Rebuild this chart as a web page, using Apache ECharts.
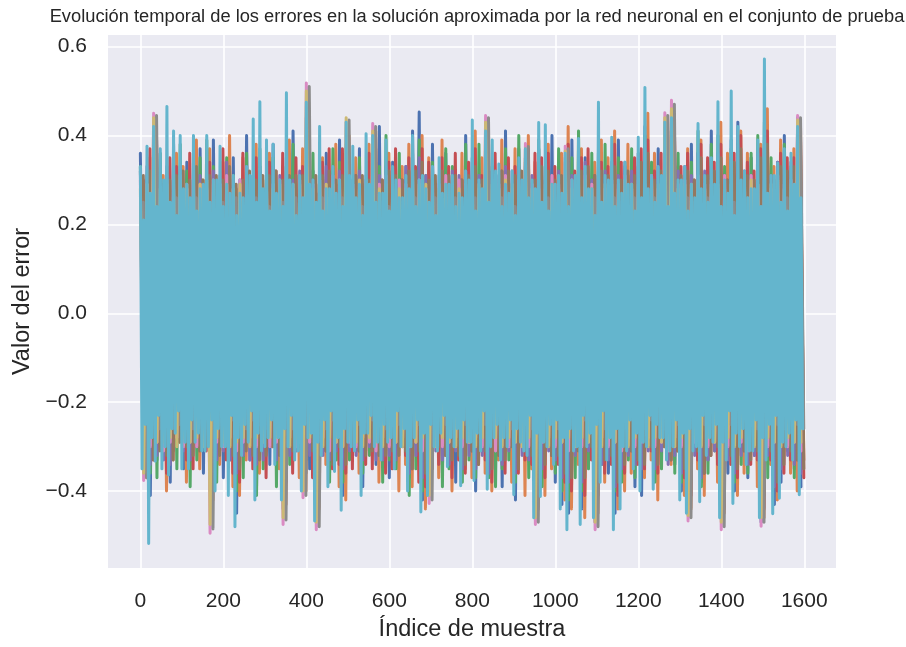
<!DOCTYPE html>
<html>
<head>
<meta charset="utf-8">
<script src="https://cdn.jsdelivr.net/npm/echarts@6/dist/echarts.min.js"></script>
<style>
  html, body { margin: 0; padding: 0; background: #ffffff; }
  #chart { width: 906px; height: 647px; }
</style>
</head>
<body>
<div id="chart"></div>
<script>
// Índices de muestra: la última salida cada 4 muestras, las demás cada 8
// (las salidas impares desplazadas 7 muestras)
const idxFino = Array.from({ length: 400 }, (_, i) => i * 4);
const idxGrueso = Array.from({ length: 200 }, (_, i) => i * 8);
const idxDesplazado = Array.from({ length: 200 }, (_, i) => i * 8 + 7);

// Errores de cada salida de la red neuronal (picos y valles alternos)
const err0 = [
  0.36,-0.29, 0.28,-0.41, 0.40,-0.33, 0.25,-0.27, 0.33,-0.38, 0.38,-0.24, 0.22,-0.35, 0.34,-0.30, 0.29,-0.22, 0.37,-0.36,
  0.26,-0.40, 0.39,-0.28, 0.31,-0.37, 0.23,-0.31, 0.35,-0.45, 0.30,-0.26, 0.40,-0.33, 0.27,-0.39, 0.33,-0.24, 0.24,-0.34,
  0.38,-0.27, 0.29,-0.44, 0.35,-0.31, 0.41,-0.23, 0.26,-0.38, 0.44,-0.35, 0.32,-0.46, 0.23,-0.28, 0.36,-0.36, 0.28,-0.25,
  0.39,-0.41, 0.33,-0.30, 0.24,-0.27, 0.37,-0.39, 0.30,-0.24, 0.35,-0.34, 0.42,-0.29, 0.27,-0.37, 0.34,-0.31, 0.22,-0.26,
  0.33,-0.37, 0.41,-0.25, 0.453,-0.42, 0.29,-0.34, 0.38,-0.29, 0.25,-0.36, 0.36,-0.23, 0.31,-0.38, 0.27,-0.33, 0.40,-0.27,
  0.35,-0.40, 0.24,-0.31, 0.38,-0.35, 0.32,-0.27, 0.28,-0.39, 0.41,-0.24, 0.26,-0.42, 0.37,-0.30, 0.33,-0.26, 0.29,-0.46,
  0.37,-0.33, 0.30,-0.28, 0.40,-0.38, 0.25,-0.43, 0.34,-0.45, 0.39,-0.25, 0.28,-0.44, 0.35,-0.32, 0.23,-0.47, 0.36,-0.29,
  0.31,-0.36, 0.27,-0.45, 0.39,-0.30, 0.34,-0.26, 0.24,-0.39, 0.36,-0.41, 0.42,-0.27, 0.29,-0.35, 0.37,-0.31, 0.43,-0.28,
  0.45,-0.34, 0.33,-0.40, 0.26,-0.43, 0.38,-0.25, 0.36,-0.38, 0.28,-0.33, 0.41,-0.29, 0.32,-0.46, 0.25,-0.36, 0.39,-0.40,
  0.43,-0.26, 0.27,-0.37, 0.35,-0.32, 0.30,-0.47, 0.38,-0.29, 0.24,-0.43, 0.34,-0.38, 0.40,-0.24, 0.29,-0.35, 0.44,-0.39
];
const err1 = [
  0.29,-0.37, 0.35,-0.30, 0.38,-0.26, 0.31,-0.40, 0.24,-0.33, 0.36,-0.29, 0.33,-0.38, 0.27,-0.24, 0.39,-0.35, 0.30,-0.28,
  0.37,-0.42, 0.25,-0.34, 0.34,-0.29, 0.40,-0.39, 0.28,-0.41, 0.35,-0.33, 0.23,-0.27, 0.38,-0.36, 0.30,-0.31, 0.36,-0.23,
  0.27,-0.35, 0.33,-0.43, 0.39,-0.28, 0.24,-0.37, 0.37,-0.40, 0.42,-0.25, 0.29,-0.44, 0.35,-0.34, 0.31,-0.29, 0.38,-0.39,
  0.25,-0.42, 0.40,-0.27, 0.35,-0.36, 0.29,-0.31, 0.38,-0.26, 0.41,-0.38, 0.26,-0.33, 0.36,-0.28, 0.23,-0.40, 0.33,-0.34,
  0.38,-0.39, 0.30,-0.31, 0.40,-0.44, 0.35,-0.28, 0.27,-0.37, 0.39,-0.32, 0.31,-0.40, 0.24,-0.26, 0.36,-0.35, 0.28,-0.37,
  0.41,-0.29, 0.35,-0.36, 0.33,-0.40, 0.26,-0.33, 0.39,-0.27, 0.30,-0.38, 0.37,-0.32, 0.28,-0.41, 0.40,-0.35, 0.34,-0.44,
  0.26,-0.41, 0.38,-0.35, 0.31,-0.27, 0.36,-0.42, 0.42,-0.44, 0.27,-0.34, 0.37,-0.46, 0.30,-0.26, 0.34,-0.45, 0.39,-0.38,
  0.35,-0.28, 0.41,-0.44, 0.26,-0.40, 0.38,-0.36, 0.33,-0.31, 0.29,-0.37, 0.45,-0.33, 0.36,-0.42, 0.27,-0.27, 0.40,-0.34,
  0.42,-0.27, 0.30,-0.41, 0.37,-0.44, 0.25,-0.35, 0.39,-0.41, 0.34,-0.29, 0.27,-0.38, 0.43,-0.45, 0.36,-0.30, 0.31,-0.41,
  0.41,-0.36, 0.36,-0.30, 0.28,-0.39, 0.38,-0.46, 0.46,-0.34, 0.33,-0.42, 0.39,-0.30, 0.27,-0.36, 0.37,-0.40, 0.42,-0.33
];
const err2 = [
  0.33,-0.31, 0.31,-0.36, 0.41,-0.37, 0.36,-0.30, 0.29,-0.27, 0.25,-0.35, 0.38,-0.26, 0.32,-0.39, 0.27,-0.33, 0.35,-0.24,
  0.39,-0.36, 0.33,-0.38, 0.26,-0.25, 0.35,-0.33, 0.31,-0.40, 0.28,-0.37, 0.36,-0.30, 0.24,-0.41, 0.37,-0.35, 0.32,-0.27,
  0.35,-0.39, 0.26,-0.40, 0.33,-0.34, 0.38,-0.29, 0.28,-0.36, 0.40,-0.31, 0.36,-0.42, 0.30,-0.25, 0.24,-0.38, 0.37,-0.33,
  0.34,-0.38, 0.38,-0.33, 0.29,-0.29, 0.35,-0.36, 0.26,-0.32, 0.39,-0.27, 0.33,-0.38, 0.40,-0.33, 0.28,-0.35, 0.36,-0.29,
  0.27,-0.41, 0.36,-0.35, 0.39,-0.40, 0.31,-0.37, 0.34,-0.26, 0.28,-0.39, 0.37,-0.35, 0.33,-0.30, 0.24,-0.38, 0.38,-0.33,
  0.31,-0.37, 0.38,-0.25, 0.36,-0.37, 0.33,-0.39, 0.25,-0.35, 0.37,-0.33, 0.29,-0.38, 0.40,-0.27, 0.35,-0.37, 0.27,-0.42,
  0.39,-0.39, 0.33,-0.30, 0.28,-0.36, 0.37,-0.40, 0.30,-0.42, 0.35,-0.37, 0.41,-0.40, 0.26,-0.35, 0.36,-0.43, 0.32,-0.34,
  0.38,-0.31, 0.30,-0.40, 0.35,-0.38, 0.27,-0.33, 0.37,-0.37, 0.33,-0.34, 0.40,-0.29, 0.34,-0.38, 0.29,-0.35, 0.38,-0.31,
  0.40,-0.36, 0.36,-0.38, 0.30,-0.40, 0.34,-0.29, 0.41,-0.39, 0.26,-0.36, 0.38,-0.31, 0.40,-0.42, 0.33,-0.27, 0.37,-0.38,
  0.38,-0.34, 0.28,-0.36, 0.36,-0.27, 0.40,-0.43, 0.43,-0.37, 0.35,-0.39, 0.30,-0.34, 0.38,-0.31, 0.33,-0.37, 0.40,-0.35
];
const err3 = [
  0.30,-0.34, 0.37,-0.33, 0.39,-0.30, 0.28,-0.36, 0.35,-0.31, 0.33,-0.26, 0.26,-0.33, 0.36,-0.35, 0.31,-0.28, 0.27,-0.31,
  0.34,-0.38, 0.30,-0.31, 0.37,-0.33, 0.32,-0.36, 0.25,-0.38, 0.36,-0.29, 0.30,-0.35, 0.35,-0.31, 0.28,-0.37, 0.34,-0.30,
  0.32,-0.31, 0.36,-0.38, 0.30,-0.36, 0.35,-0.26, 0.33,-0.33, 0.38,-0.37, 0.27,-0.40, 0.34,-0.31, 0.37,-0.35, 0.29,-0.34,
  0.37,-0.36, 0.35,-0.35, 0.31,-0.31, 0.26,-0.34, 0.36,-0.35, 0.37,-0.30, 0.30,-0.36, 0.34,-0.35, 0.37,-0.30, 0.30,-0.32,
  0.35,-0.35, 0.33,-0.38, 0.37,-0.39, 0.34,-0.35, 0.29,-0.34, 0.35,-0.27, 0.33,-0.37, 0.36,-0.33, 0.30,-0.36, 0.34,-0.31,
  0.37,-0.34, 0.31,-0.33, 0.39,-0.38, 0.36,-0.30, 0.32,-0.36, 0.35,-0.29, 0.33,-0.36, 0.31,-0.33, 0.37,-0.34, 0.36,-0.40,
  0.35,-0.37, 0.36,-0.32, 0.33,-0.34, 0.30,-0.38, 0.38,-0.40, 0.32,-0.30, 0.35,-0.41, 0.37,-0.33, 0.31,-0.41, 0.34,-0.36,
  0.33,-0.34, 0.38,-0.41, 0.34,-0.36, 0.31,-0.31, 0.35,-0.34, 0.37,-0.35, 0.39,-0.31, 0.32,-0.36, 0.36,-0.30, 0.41,-0.33,
  0.43,-0.31, 0.33,-0.37, 0.36,-0.41, 0.30,-0.33, 0.38,-0.36, 0.35,-0.32, 0.34,-0.34, 0.38,-0.44, 0.30,-0.34, 0.36,-0.37,
  0.40,-0.31, 0.34,-0.34, 0.32,-0.33, 0.37,-0.44, 0.41,-0.33, 0.30,-0.40, 0.36,-0.36, 0.35,-0.33, 0.35,-0.33, 0.39,-0.37
];
const err4 = [
  0.32,-0.33, 0.33,-0.34, 0.37,-0.32, 0.30,-0.33, 0.31,-0.34, 0.30,-0.28, 0.33,-0.31, 0.29,-0.33, 0.34,-0.30, 0.31,-0.29,
  0.30,-0.36, 0.32,-0.33, 0.29,-0.31, 0.34,-0.33, 0.30,-0.36, 0.29,-0.32, 0.33,-0.33, 0.31,-0.34, 0.32,-0.33, 0.30,-0.29,
  0.33,-0.33, 0.31,-0.36, 0.32,-0.32, 0.30,-0.31, 0.32,-0.35, 0.36,-0.32, 0.30,-0.37, 0.32,-0.32, 0.33,-0.33, 0.31,-0.31,
  0.32,-0.35, 0.34,-0.31, 0.30,-0.32, 0.32,-0.33, 0.31,-0.30, 0.35,-0.33, 0.31,-0.33, 0.33,-0.32, 0.32,-0.33, 0.29,-0.30,
  0.33,-0.36, 0.33,-0.32, 0.35,-0.37, 0.31,-0.34, 0.32,-0.31, 0.31,-0.33, 0.30,-0.34, 0.32,-0.31, 0.31,-0.35, 0.32,-0.32,
  0.34,-0.35, 0.31,-0.32, 0.36,-0.36, 0.32,-0.31, 0.31,-0.34, 0.33,-0.31, 0.32,-0.36, 0.33,-0.32, 0.34,-0.33, 0.31,-0.38,
  0.34,-0.35, 0.33,-0.31, 0.31,-0.33, 0.32,-0.37, 0.35,-0.38, 0.31,-0.32, 0.33,-0.38, 0.34,-0.31, 0.30,-0.39, 0.33,-0.34,
  0.32,-0.33, 0.34,-0.39, 0.31,-0.35, 0.33,-0.32, 0.32,-0.34, 0.35,-0.35, 0.37,-0.31, 0.31,-0.35, 0.33,-0.31, 0.38,-0.34,
  0.40,-0.32, 0.32,-0.36, 0.33,-0.39, 0.31,-0.32, 0.36,-0.37, 0.32,-0.33, 0.33,-0.31, 0.36,-0.42, 0.31,-0.33, 0.35,-0.36,
  0.38,-0.32, 0.32,-0.34, 0.31,-0.32, 0.36,-0.42, 0.39,-0.32, 0.31,-0.39, 0.34,-0.35, 0.33,-0.32, 0.34,-0.34, 0.37,-0.36
];
const err5 = [
  0.31,-0.32, 0.32,-0.33, 0.36,-0.31, 0.29,-0.32, 0.30,-0.33, 0.31,-0.29, 0.32,-0.30, 0.30,-0.32, 0.33,-0.31, 0.30,-0.30,
  0.31,-0.35, 0.31,-0.32, 0.30,-0.30, 0.33,-0.32, 0.29,-0.35, 0.30,-0.31, 0.32,-0.32, 0.30,-0.33, 0.31,-0.32, 0.31,-0.30,
  0.32,-0.32, 0.30,-0.35, 0.31,-0.31, 0.31,-0.30, 0.31,-0.36, 0.37,-0.31, 0.31,-0.36, 0.31,-0.31, 0.32,-0.34, 0.30,-0.30,
  0.31,-0.34, 0.33,-0.30, 0.31,-0.31, 0.31,-0.32, 0.30,-0.31, 0.34,-0.32, 0.30,-0.32, 0.32,-0.31, 0.31,-0.32, 0.30,-0.31,
  0.32,-0.35, 0.32,-0.31, 0.34,-0.36, 0.30,-0.35, 0.31,-0.30, 0.32,-0.32, 0.31,-0.33, 0.31,-0.32, 0.30,-0.34, 0.31,-0.31,
  0.33,-0.34, 0.30,-0.31, 0.35,-0.35, 0.31,-0.32, 0.32,-0.33, 0.32,-0.30, 0.31,-0.35, 0.32,-0.31, 0.33,-0.32, 0.30,-0.37,
  0.33,-0.34, 0.32,-0.32, 0.30,-0.32, 0.31,-0.36, 0.34,-0.37, 0.30,-0.31, 0.32,-0.37, 0.33,-0.30, 0.31,-0.38, 0.32,-0.33,
  0.31,-0.32, 0.33,-0.38, 0.30,-0.34, 0.32,-0.31, 0.31,-0.33, 0.34,-0.34, 0.36,-0.30, 0.30,-0.34, 0.32,-0.30, 0.37,-0.33,
  0.39,-0.31, 0.31,-0.35, 0.32,-0.38, 0.30,-0.31, 0.35,-0.36, 0.31,-0.32, 0.32,-0.30, 0.35,-0.41, 0.30,-0.32, 0.34,-0.35,
  0.37,-0.31, 0.31,-0.33, 0.30,-0.31, 0.35,-0.41, 0.38,-0.31, 0.30,-0.38, 0.33,-0.34, 0.32,-0.31, 0.33,-0.33, 0.36,-0.35
];
const err6 = [
  0.30,-0.376, 0.29,-0.30, 0.45,-0.29, 0.28,-0.31, 0.30,-0.29, 0.29,-0.28, 0.31,-0.30, 0.28,-0.29, 0.30,-0.30, 0.29,-0.28,
  0.28,-0.495, 0.30,-0.29, 0.29,-0.30, 0.31,-0.28, 0.28,-0.31, 0.30,-0.29, 0.29,-0.28, 0.30,-0.30, 0.31,-0.29, 0.28,-0.30,
  0.29,-0.29, 0.30,-0.475, 0.31,-0.28, 0.28,-0.30, 0.30,-0.415, 0.518,-0.29, 0.29,-0.487, 0.30,-0.28, 0.28,-0.31, 0.31,-0.29,
  0.30,-0.30, 0.43,-0.29, 0.29,-0.30, 0.28,-0.28, 0.30,-0.29, 0.427,-0.31, 0.29,-0.28, 0.31,-0.30, 0.28,-0.29, 0.30,-0.28,
  0.29,-0.30, 0.31,-0.29, 0.30,-0.31, 0.28,-0.428, 0.30,-0.28, 0.29,-0.30, 0.31,-0.29, 0.28,-0.28, 0.30,-0.30, 0.29,-0.29,
  0.31,-0.28, 0.28,-0.30, 0.445,-0.29, 0.30,-0.31, 0.29,-0.28, 0.31,-0.30, 0.28,-0.29, 0.30,-0.28, 0.382,-0.30, 0.29,-0.475,
  0.30,-0.29, 0.28,-0.28, 0.31,-0.30, 0.29,-0.29, 0.376,-0.31, 0.30,-0.28, 0.28,-0.30, 0.31,-0.29, 0.29,-0.487, 0.30,-0.28,
  0.28,-0.30, 0.30,-0.29, 0.29,-0.31, 0.31,-0.28, 0.28,-0.30, 0.30,-0.29, 0.29,-0.28, 0.31,-0.30, 0.28,-0.29, 0.451,-0.31,
  0.479,-0.28, 0.29,-0.30, 0.30,-0.467, 0.28,-0.29, 0.31,-0.28, 0.29,-0.30, 0.30,-0.29, 0.28,-0.487, 0.31,-0.30, 0.29,-0.28,
  0.30,-0.29, 0.28,-0.31, 0.31,-0.28, 0.29,-0.479, 0.30,-0.30, 0.28,-0.29, 0.31,-0.28, 0.29,-0.30, 0.30,-0.29, 0.445,-0.31
];
const err7 = [
  0.25,-0.37, 0.26,-0.25, 0.445,-0.26, 0.25,-0.24, 0.24,-0.26, 0.26,-0.25, 0.25,-0.24, 0.24,-0.26, 0.26,-0.25, 0.25,-0.24,
  0.24,-0.485, 0.26,-0.25, 0.25,-0.26, 0.24,-0.24, 0.26,-0.25, 0.25,-0.26, 0.24,-0.24, 0.26,-0.25, 0.25,-0.26, 0.24,-0.24,
  0.26,-0.25, 0.25,-0.465, 0.24,-0.26, 0.26,-0.24, 0.25,-0.41, 0.51,-0.25, 0.24,-0.48, 0.26,-0.26, 0.25,-0.24, 0.24,-0.25,
  0.26,-0.26, 0.435,-0.24, 0.25,-0.25, 0.24,-0.26, 0.26,-0.24, 0.42,-0.25, 0.25,-0.26, 0.24,-0.24, 0.26,-0.25, 0.25,-0.26,
  0.24,-0.24, 0.26,-0.25, 0.25,-0.26, 0.24,-0.42, 0.26,-0.24, 0.25,-0.25, 0.24,-0.26, 0.26,-0.24, 0.25,-0.25, 0.24,-0.26,
  0.26,-0.24, 0.25,-0.25, 0.44,-0.26, 0.24,-0.24, 0.26,-0.25, 0.25,-0.26, 0.24,-0.24, 0.26,-0.25, 0.375,-0.26, 0.25,-0.47,
  0.24,-0.24, 0.26,-0.25, 0.25,-0.26, 0.24,-0.24, 0.37,-0.25, 0.26,-0.26, 0.25,-0.24, 0.24,-0.25, 0.26,-0.48, 0.25,-0.26,
  0.24,-0.24, 0.26,-0.25, 0.25,-0.26, 0.24,-0.24, 0.26,-0.25, 0.25,-0.26, 0.24,-0.24, 0.26,-0.25, 0.25,-0.26, 0.445,-0.24,
  0.47,-0.25, 0.24,-0.26, 0.26,-0.46, 0.25,-0.24, 0.24,-0.25, 0.26,-0.26, 0.25,-0.24, 0.24,-0.48, 0.26,-0.25, 0.25,-0.26,
  0.24,-0.24, 0.26,-0.25, 0.25,-0.26, 0.24,-0.47, 0.26,-0.24, 0.25,-0.25, 0.24,-0.26, 0.26,-0.24, 0.25,-0.25, 0.44,-0.26
];
const err8 = [
  0.28,-0.36, 0.29,-0.28, 0.44,-0.29, 0.28,-0.29, 0.29,-0.28, 0.28,-0.30, 0.30,-0.28, 0.29,-0.29, 0.28,-0.28, 0.29,-0.30,
  0.30,-0.475, 0.29,-0.28, 0.28,-0.29, 0.29,-0.30, 0.28,-0.29, 0.29,-0.28, 0.28,-0.30, 0.30,-0.28, 0.29,-0.29, 0.28,-0.28,
  0.28,-0.28, 0.29,-0.46, 0.30,-0.30, 0.29,-0.28, 0.29,-0.40, 0.50,-0.28, 0.28,-0.47, 0.30,-0.30, 0.29,-0.28, 0.29,-0.29,
  0.28,-0.30, 0.44,-0.28, 0.28,-0.29, 0.30,-0.30, 0.29,-0.28, 0.41,-0.29, 0.28,-0.30, 0.29,-0.28, 0.29,-0.29, 0.28,-0.30,
  0.28,-0.28, 0.30,-0.29, 0.29,-0.28, 0.29,-0.41, 0.28,-0.30, 0.28,-0.28, 0.29,-0.29, 0.29,-0.30, 0.28,-0.28, 0.28,-0.29,
  0.30,-0.30, 0.29,-0.28, 0.43,-0.29, 0.29,-0.28, 0.28,-0.30, 0.30,-0.28, 0.29,-0.29, 0.29,-0.30, 0.37,-0.28, 0.28,-0.46,
  0.28,-0.28, 0.29,-0.30, 0.29,-0.28, 0.28,-0.29, 0.365,-0.28, 0.28,-0.30, 0.29,-0.28, 0.30,-0.29, 0.28,-0.47, 0.28,-0.30,
  0.29,-0.28, 0.29,-0.29, 0.28,-0.28, 0.30,-0.30, 0.29,-0.28, 0.29,-0.28, 0.28,-0.30, 0.30,-0.28, 0.29,-0.29, 0.44,-0.28,
  0.46,-0.30, 0.28,-0.28, 0.29,-0.455, 0.29,-0.28, 0.30,-0.30, 0.28,-0.28, 0.29,-0.29, 0.29,-0.47, 0.28,-0.28, 0.29,-0.30,
  0.28,-0.28, 0.29,-0.29, 0.30,-0.30, 0.29,-0.46, 0.28,-0.28, 0.29,-0.29, 0.30,-0.30, 0.28,-0.28, 0.29,-0.29, 0.435,-0.29
];
const err9 = [
  0.33,-0.35,0.21,-0.25, 0.376,-0.518,0.27,-0.28, 0.42,-0.333,0.24,-0.23, 0.37,-0.35,0.30,-0.30, 0.465,-0.364,0.25,-0.26,
  0.41,-0.27,0.22,-0.22, 0.40,-0.35,0.28,-0.29, 0.29,-0.35,0.26,-0.24, 0.40,-0.29,0.23,-0.27, 0.28,-0.31,0.29,-0.31,
  0.40,-0.30,0.25,-0.24, 0.30,-0.40,0.30,-0.26, 0.376,-0.30,0.24,-0.30, 0.29,-0.41,0.27,-0.23, 0.31,-0.48,0.22,-0.28,
  0.27,-0.32,0.26,-0.25, 0.33,-0.29,0.31,-0.22, 0.437,-0.42,0.25,-0.27, 0.476,-0.31,0.28,-0.30, 0.39,-0.28,0.23,-0.24,
  0.38,-0.34,0.27,-0.28, 0.30,-0.42,0.24,-0.26, 0.496,-0.30,0.30,-0.23, 0.29,-0.33,0.22,-0.31, 0.31,-0.40,0.26,-0.25,
  0.475,-0.28,0.29,-0.27, 0.30,-0.467,0.25,-0.29, 0.42,-0.32,0.23,-0.24, 0.28,-0.39,0.28,-0.22, 0.33,-0.356,0.27,-0.28,
  0.30,-0.443,0.24,-0.26, 0.43,-0.29,0.31,-0.30, 0.376,-0.31,0.26,-0.24, 0.29,-0.41,0.22,-0.27, 0.404,-0.27,0.29,-0.23,
  0.40,-0.30,0.25,-0.29, 0.27,-0.33,0.27,-0.25, 0.39,-0.29,0.23,-0.28, 0.33,-0.35,0.30,-0.22, 0.26,-0.30,0.26,-0.26,
  0.31,-0.40,0.28,-0.30, 0.40,-0.28,0.24,-0.24, 0.30,-0.447,0.31,-0.27, 0.28,-0.41,0.25,-0.25, 0.33,-0.30,0.22,-0.31,
  0.35,-0.27,0.27,-0.23, 0.29,-0.345,0.29,-0.28, 0.31,-0.30,0.24,-0.26, 0.27,-0.388,0.26,-0.24, 0.32,-0.29,0.30,-0.29,
  0.435,-0.376,0.23,-0.27, 0.30,-0.31,0.28,-0.22, 0.41,-0.396,0.25,-0.30, 0.39,-0.28,0.32,-0.25, 0.336,-0.33,0.24,-0.28,
  0.29,-0.30,0.27,-0.24, 0.32,-0.408,0.22,-0.26, 0.35,-0.29,0.30,-0.31, 0.37,-0.32,0.26,-0.23, 0.30,-0.46,0.28,-0.27,
  0.429,-0.412,0.25,-0.29, 0.424,-0.30,0.23,-0.25, 0.29,-0.34,0.29,-0.24, 0.31,-0.44,0.27,-0.28, 0.36,-0.487,0.24,-0.26,
  0.30,-0.31,0.31,-0.30, 0.393,-0.475,0.26,-0.23, 0.33,-0.30,0.28,-0.27, 0.28,-0.46,0.22,-0.25, 0.475,-0.38,0.25,-0.22,
  0.31,-0.33,0.30,-0.28, 0.396,-0.487,0.24,-0.26, 0.30,-0.44,0.27,-0.30, 0.34,-0.31,0.29,-0.24, 0.29,-0.35,0.23,-0.27,
  0.396,-0.40,0.26,-0.29, 0.508,-0.30,0.28,-0.23, 0.31,-0.396,0.25,-0.25, 0.33,-0.28,0.31,-0.28, 0.43,-0.33,0.24,-0.31,
  0.44,-0.30,0.27,-0.24, 0.30,-0.42,0.30,-0.27, 0.33,-0.45,0.23,-0.26, 0.29,-0.31,0.26,-0.30, 0.427,-0.424,0.28,-0.23,
  0.31,-0.32,0.25,-0.28, 0.35,-0.29,0.29,-0.25, 0.476,-0.46,0.24,-0.29, 0.30,-0.33,0.27,-0.22, 0.50,-0.428,0.22,-0.27,
  0.42,-0.30,0.30,-0.26, 0.32,-0.34,0.26,-0.31, 0.28,-0.31,0.28,-0.24, 0.39,-0.46,0.24,-0.28, 0.572,-0.33,0.27,-0.25,
  0.31,-0.451,0.31,-0.23, 0.338,-0.416,0.25,-0.29, 0.37,-0.30,0.23,-0.27, 0.36,-0.33,0.29,-0.24, 0.42,-0.408,0.26,-0.26
];

const seriesValues = [err0, err1, err2, err3, err4, err5, err6, err7, err8, err9];
const seriesIdx = [idxGrueso, idxDesplazado, idxGrueso, idxDesplazado, idxGrueso,
                   idxDesplazado, idxGrueso, idxDesplazado, idxGrueso, idxFino];
const palette = ['#4C72B0', '#DD8452', '#55A868', '#C44E52', '#8172B3',
                 '#937860', '#DA8BC3', '#8C8C8C', '#CCB974', '#64B5CD'];

// Marcas de los ejes
const xTicks = [0, 200, 400, 600, 800, 1000, 1200, 1400, 1600];
const yTicks = [-0.4, -0.2, 0.0, 0.2, 0.4, 0.6];

const textColor = '#262626';
const fontFam = '"Liberation Sans", Arial, sans-serif';

const chart = echarts.init(document.getElementById('chart'), null, { renderer: 'canvas' });

const series = seriesValues.map((vals, s) => ({
  type: 'line',
  data: vals.map((v, i) => [seriesIdx[s][i], v]),
  showSymbol: false,
  symbol: 'none',
  animation: false,
  silent: true,
  clip: true,
  lineStyle: { color: palette[s], width: 3, cap: 'round', join: 'round' },
  z: 2 + s
}));

chart.setOption({
  backgroundColor: '#ffffff',
  animation: false,
  title: {
    text: 'Evolución temporal de los errores en la solución aproximada por la red neuronal en el conjunto de prueba',
    left: 472, top: 3, textAlign: 'center',
    textStyle: { fontFamily: fontFam, fontSize: 18.3, fontWeight: 'normal', color: textColor }
  },
  grid: { left: 108, top: 35, width: 728, height: 541, backgroundColor: '#EAEAF2', show: true, borderWidth: 0 },
  xAxis: {
    type: 'value', min: -78, max: 1676.5,
    name: 'Índice de muestra', nameLocation: 'middle', nameGap: 50,
    nameTextStyle: { fontFamily: fontFam, fontSize: 23.5, color: textColor },
    axisLine: { show: false },
    axisTick: { show: false, customValues: xTicks },
    axisLabel: { customValues: xTicks, margin: 23, fontFamily: fontFam, fontSize: 21, color: textColor,
      formatter: v => String(v) },
    splitLine: { show: true, lineStyle: { color: '#ffffff', width: 1.6 } }
  },
  yAxis: {
    type: 'value', min: -0.573, max: 0.626,
    name: 'Valor del error', nameLocation: 'middle', nameGap: 72,
    nameTextStyle: { fontFamily: fontFam, fontSize: 23.5, color: textColor },
    axisLine: { show: false },
    axisTick: { show: false, customValues: yTicks },
    axisLabel: {
      customValues: yTicks, margin: 21, fontFamily: fontFam, fontSize: 21, color: textColor,
      formatter: v => (v < -1e-9 ? '\u2212' : '') + Math.abs(v).toFixed(1)
    },
    splitLine: { show: true, lineStyle: { color: '#ffffff', width: 1.6 } }
  },
  series: series
});
</script>
</body>
</html>
